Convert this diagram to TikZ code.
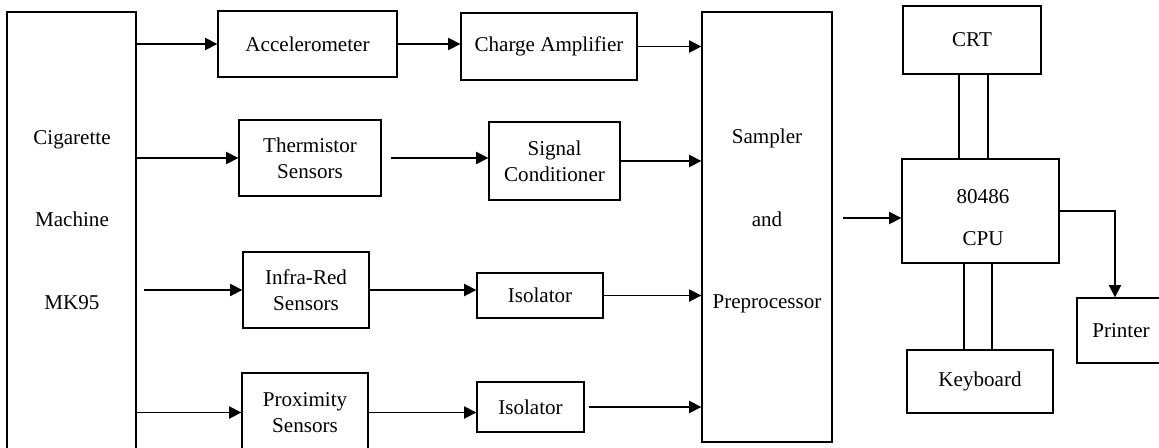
\documentclass[tikz,border=0pt]{standalone}
\usepackage{fontspec}
\setmainfont{Liberation Serif}
\usetikzlibrary{shapes.geometric, arrows.meta, positioning}
\tikzstyle{block} = [rectangle, draw=black, line width=0.8pt, inner sep=0pt, text centered, align=center]
\tikzstyle{arrow} = [line width=0.9pt, -{Triangle[length=7pt,width=7pt]}]
\tikzstyle{wire} = [line width=0.8pt]
\tikzstyle{txt} = [inner sep=0pt]

\begin{document}
\begin{tikzpicture}[x=0.02cm, y=-0.02cm, font=\fontsize{12}{15}\selectfont]
\useasboundingbox (0,0) rectangle (1159,447);

\node (mach) [block, minimum width=2.58cm, minimum height=9.36cm] at (71.5,246) {};
\node (mtxt) [txt, align=center] at (72,220) {Cigarette\\[32pt]Machine\\[32pt]MK95};

\node (acc) [block, minimum width=3.58cm, minimum height=1.32cm] at (307.5,44) {Accelerometer};
\node (therm) [block, minimum width=2.84cm, minimum height=1.52cm] at (310,158) {Thermistor\\Sensors};
\node (infra) [block, minimum width=2.52cm, minimum height=1.52cm] at (306,290) {Infra-Red\\Sensors};
\node (prox) [block, minimum width=2.52cm, minimum height=1.58cm] at (305,412.5) {Proximity\\Sensors};

\node (charge) [block, minimum width=3.52cm, minimum height=1.34cm] at (549,46.5) {Charge Amplifier};
\node (sig) [block, minimum width=2.62cm, minimum height=1.56cm] at (554.5,161) {Signal\\Conditioner};
\node (iso1) [block, minimum width=2.52cm, minimum height=0.9cm] at (540,295.5) {Isolator};
\node (iso2) [block, minimum width=2.14cm, minimum height=1.0cm] at (530.5,407) {Isolator};

\node (samp) [block, minimum width=2.6cm, minimum height=8.6cm] at (767,227) {};
\node (stxt) [txt, align=center] at (767,221) {Sampler\\[32pt]and\\[32pt]Preprocessor};

\node (crt) [block, minimum width=2.76cm, minimum height=1.36cm] at (972,40) {CRT};
\node (cpu) [block, minimum width=3.14cm, minimum height=2.08cm] at (980.5,211) {};
\node (ctxt) [txt, align=center] at (983,218) {80486\\[9pt]CPU};
\node (kbd) [block, minimum width=2.92cm, minimum height=1.26cm] at (980,381.5) {Keyboard};
\node (prn) [block, minimum width=1.76cm, minimum height=1.30cm] at (1121,330.5) {Printer};

% sensors
\draw [arrow] (mach.east |- acc.west) -- (acc.west);
\draw [arrow] (mach.east |- therm.west) -- (therm.west);
\draw [arrow, shorten <=0.14cm] (mach.east |- infra.west) -- (infra.west);
\draw [arrow] (mach.east |- prox.west) -- (prox.west);

% conditioning
\draw [arrow] (acc.east) -- (acc.east -| charge.west);
\draw [arrow] (charge.east) -- (charge.east -| samp.west);
\draw [arrow, shorten <=0.18cm] (therm.east) -- (therm.east -| sig.west);
\draw [arrow] (sig.east) -- (sig.east -| samp.west);
\draw [arrow] (infra.east) -- (infra.east -| iso1.west);
\draw [arrow] (iso1.east) -- (iso1.east -| samp.west);
\draw [arrow] (prox.east) -- (prox.east -| iso2.west);
\draw [arrow, shorten <=0.08cm] (iso2.east) -- (iso2.east -| samp.west);

% computer
\draw [arrow, shorten <=0.2cm] (samp.east |- ctxt) -- (cpu.west |- ctxt);
\draw [arrow] (cpu.east) -| ([xshift=-0.12cm]prn.north);
\draw [wire] ([xshift=-0.26cm]crt.south) -- ([xshift=-0.26cm]crt.south |- cpu.north);
\draw [wire] ([xshift=0.32cm]crt.south) -- ([xshift=0.32cm]crt.south |- cpu.north);
\draw [wire] ([xshift=-0.32cm]kbd.north) -- ([xshift=-0.32cm]kbd.north |- cpu.south);
\draw [wire] ([xshift=0.24cm]kbd.north) -- ([xshift=0.24cm]kbd.north |- cpu.south);
\end{tikzpicture}
\end{document}
